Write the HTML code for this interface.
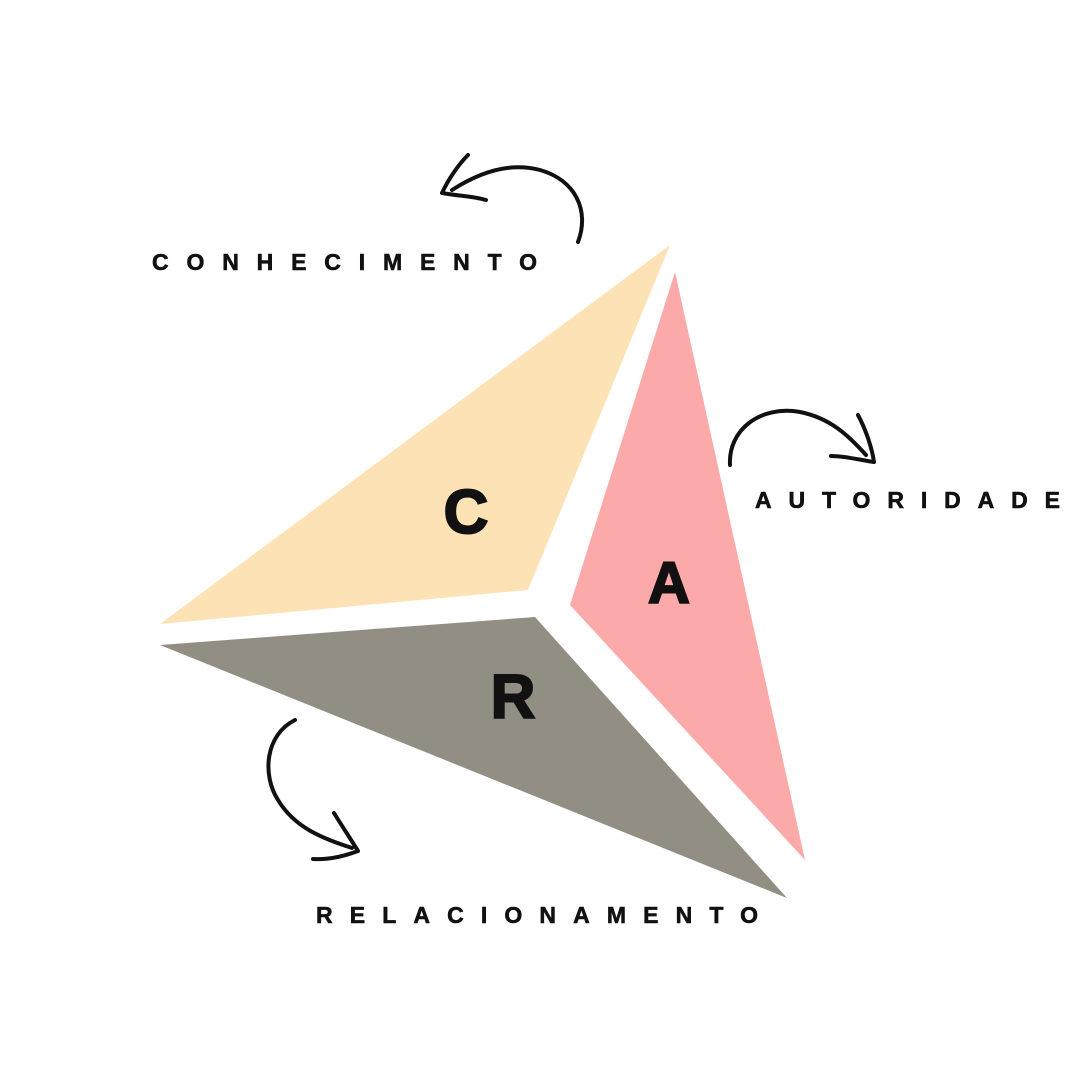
<!DOCTYPE html>
<html><head><meta charset="utf-8"><style>
html,body{margin:0;padding:0;background:#fff;}
svg{display:block;}
</style></head><body>
<svg width="1080" height="1080" viewBox="0 0 1080 1080" xmlns="http://www.w3.org/2000/svg">
<rect width="1080" height="1080" fill="#ffffff"/>
<polygon points="160,624 670,245 528,590" fill="#fde2b6"/>
<polygon points="675,272 805,860 570,605" fill="#fcaaa9"/>
<polygon points="160,645 535,617 787,898" fill="#938e84"/>
<g font-family="Liberation Sans, sans-serif" font-weight="bold" fill="#111" text-anchor="middle" stroke="#111" stroke-width="2">
<text x="466" y="533" font-size="62">C</text>
<text x="669" y="603" font-size="58">A</text>
<text x="513" y="718" font-size="62">R</text>
</g>
<g font-family="Liberation Sans, sans-serif" font-weight="bold" fill="#111" font-size="23" stroke="#111" stroke-width="0.6">
<text x="152" y="270" textLength="385" lengthAdjust="spacing">CONHECIMENTO</text>
<text x="755" y="508" textLength="305" lengthAdjust="spacing">AUTORIDADE</text>
<text x="316" y="923" textLength="442" lengthAdjust="spacing">RELACIONAMENTO</text>
</g>
<g fill="none" stroke="#111" stroke-width="4" stroke-linecap="round" stroke-linejoin="round">
<path d="M578,242 C590,210 575,180 540,170 C510,162 480,172 452,190"/>
<path d="M468,155 C458,165 448,180 442,193 C458,196 472,196 486,200"/>
<path d="M730,465 C728,430 760,405 800,412 C830,418 848,435 866,455"/>
<path d="M858,415 C866,430 872,448 874,462 C860,460 845,456 831,456"/>
<path d="M295,720 C265,735 262,775 278,800 C295,828 322,838 352,848"/>
<path d="M334,813 C342,826 350,838 358,851 C342,857 327,860 313,859"/>
</g>
</svg>
</body></html>
